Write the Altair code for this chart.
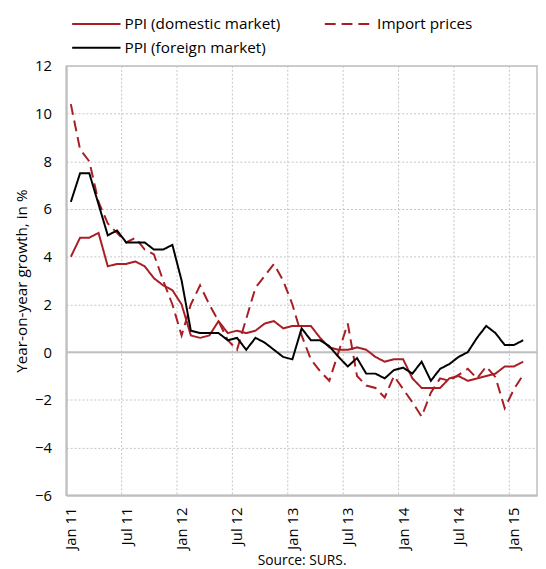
import altair as alt
import pandas as pd

# ---- data ----
tick_labels = ["Jan 11", "Jul 11", "Jan 12", "Jul 12", "Jan 13",
               "Jul 13", "Jan 14", "Jul 14", "Jan 15"]
tick_positions = [0, 6, 12, 18, 24, 30, 36, 42, 48]          # month index of each label
grid_boundaries = [5.5, 11.5, 17.5, 23.5, 29.5, 35.5, 41.5, 47.5]
n_categories = 51                                            # Jan 11 .. Mar 15

name_dom = "PPI (domestic market)"
name_imp = "Import prices"
name_for = "PPI (foreign market)"

# monthly values, Jan 2011 .. Feb 2015
ppi_domestic = [4.0, 4.8, 4.8, 5.0, 3.6, 3.7, 3.7, 3.8, 3.6, 3.1,
                2.8, 2.6, 2.0, 0.7, 0.6, 0.7, 1.3, 0.8, 0.9, 0.8,
                0.9, 1.2, 1.3, 1.0, 1.1, 1.1, 1.1, 0.6, 0.2, 0.1,
                0.1, 0.2, 0.1, -0.2, -0.4, -0.3, -0.3, -1.1, -1.5, -1.5,
                -1.5, -1.1, -1.0, -1.2, -1.1, -1.0, -0.9, -0.6, -0.6, -0.4]

ppi_foreign = [6.3, 7.5, 7.5, 6.2, 4.9, 5.1, 4.6, 4.6, 4.6, 4.3,
               4.3, 4.5, 3.0, 0.9, 0.8, 0.8, 0.8, 0.5, 0.6, 0.1,
               0.6, 0.4, 0.1, -0.2, -0.3, 1.0, 0.5, 0.5, 0.25, -0.2,
               -0.6, -0.25, -0.9, -0.9, -1.1, -0.75, -0.65, -0.9, -0.4, -1.2,
               -0.7, -0.5, -0.2, 0.0, 0.6, 1.1, 0.8, 0.3, 0.3, 0.5]

import_prices = [10.4, 8.5, 8.0, 6.3, 5.4, 5.0, 4.6, 4.8, 4.3, 4.1,
                 3.0, 2.0, 0.7, 2.0, 2.8, 2.0, 1.3, 0.5, 0.1, 1.4,
                 2.7, 3.2, 3.7, 3.0, 2.0, 0.7, -0.3, -0.8, -1.2, 0.0,
                 1.2, -1.0, -1.4, -1.5, -1.9, -1.0, -1.55, -2.1, -2.7, -1.7,
                 -1.1, -1.2, -0.95, -0.7, -1.1, -0.6, -1.05, -2.35, -1.55, -0.95]


def long_table(pairs):
    rows = []
    for name, vals in pairs:
        for i, v in enumerate(vals):
            rows.append({"idx": i, "value": v, "series": name})
    return pd.DataFrame(rows)


df_red = long_table([(name_dom, ppi_domestic), (name_imp, import_prices)])
df_black = long_table([(name_for, ppi_foreign)])

RED = "#A81E24"
BLACK = "#000000"
AXIS_GRAY = "#BFBFBF"
GRID_GRAY = "#C4C4C4"
FONT = "Open Sans"

label_array = "[" + ",".join("'%s'" % t for t in tick_labels) + "]"

x_scale = alt.Scale(domain=[-0.5, n_categories - 0.5], nice=False, zero=False)
y_scale = alt.Scale(domain=[-6, 12], nice=False)

x_axis = alt.Axis(
    values=tick_positions,
    labelExpr=label_array + "[round(datum.value / 6)]",
    labelAngle=-90, labelAlign="right", labelBaseline="middle",
    grid=False, ticks=False,
    domainColor=AXIS_GRAY, domainWidth=2,
    labelFontSize=15, labelColor="black", labelPadding=12,
    title="Source: SURS.", titleFontSize=14, titleFontWeight="normal",
    titleColor="black", titlePadding=5,
)
y_axis = alt.Axis(
    values=list(range(-6, 13, 2)),
    grid=True, gridDash=[2, 2], gridColor=GRID_GRAY, gridWidth=1,
    ticks=False, domainColor=AXIS_GRAY, domainWidth=2,
    labelFontSize=15, labelColor="black", labelPadding=15,
    title="Year-on-year growth, in %", titleFontSize=15.5,
    titleFontWeight="normal", titleColor="black", titlePadding=5,
)


def make_legend(y):
    return alt.Legend(
        title=None, orient="none", legendX=5, legendY=y,
        direction="horizontal", columnPadding=41,
        symbolType="stroke", symbolSize=2401, symbolStrokeWidth=2,
        labelFontSize=15.5, labelColor="black", labelOffset=3, padding=0,
    )


legend_row1 = make_legend(-68)
legend_row2 = make_legend(-44)

grid_df = pd.DataFrame({"idx": grid_boundaries})
vgrid = alt.Chart(grid_df).mark_rule(
    color=GRID_GRAY, strokeDash=[2, 2], strokeWidth=1
).encode(x=alt.X("idx:Q", scale=x_scale, axis=x_axis))

zero_df = pd.DataFrame({"value": [0]})
zero_line = alt.Chart(zero_df).mark_rule(
    color=AXIS_GRAY, strokeWidth=2
).encode(y=alt.Y("value:Q", scale=y_scale, axis=y_axis))

red_lines = alt.Chart(df_red).mark_line(strokeWidth=2).encode(
    x=alt.X("idx:Q", scale=x_scale, axis=x_axis),
    y=alt.Y("value:Q", scale=y_scale, axis=y_axis),
    color=alt.Color("series:N",
                    scale=alt.Scale(domain=[name_dom, name_imp], range=[RED, RED]),
                    legend=legend_row1),
    strokeDash=alt.StrokeDash("series:N",
                              scale=alt.Scale(domain=[name_dom, name_imp],
                                              range=[[1, 0], [11, 6]]),
                              legend=legend_row1),
)

black_line = alt.Chart(df_black).mark_line(strokeWidth=2).encode(
    x=alt.X("idx:Q", scale=x_scale, axis=x_axis),
    y=alt.Y("value:Q", scale=y_scale, axis=y_axis),
    color=alt.Color("series:N",
                    scale=alt.Scale(domain=[name_for], range=[BLACK]),
                    legend=legend_row2),
    strokeDash=alt.StrokeDash("series:N",
                              scale=alt.Scale(domain=[name_for], range=[[1, 0]]),
                              legend=legend_row2),
)

chart = alt.layer(vgrid, zero_line, red_lines, black_line).resolve_scale(
    color="independent", strokeDash="independent"
).properties(
    width=477, height=435,
    autosize=alt.AutoSizeParams(type="none"),
    padding={"left": 59, "top": 55, "right": 1, "bottom": 71},
).configure(font=FONT).configure_view(
    stroke=AXIS_GRAY, strokeWidth=1.5
)

chart.save("out.html", embed_options={"renderer": "svg", "actions": False})
